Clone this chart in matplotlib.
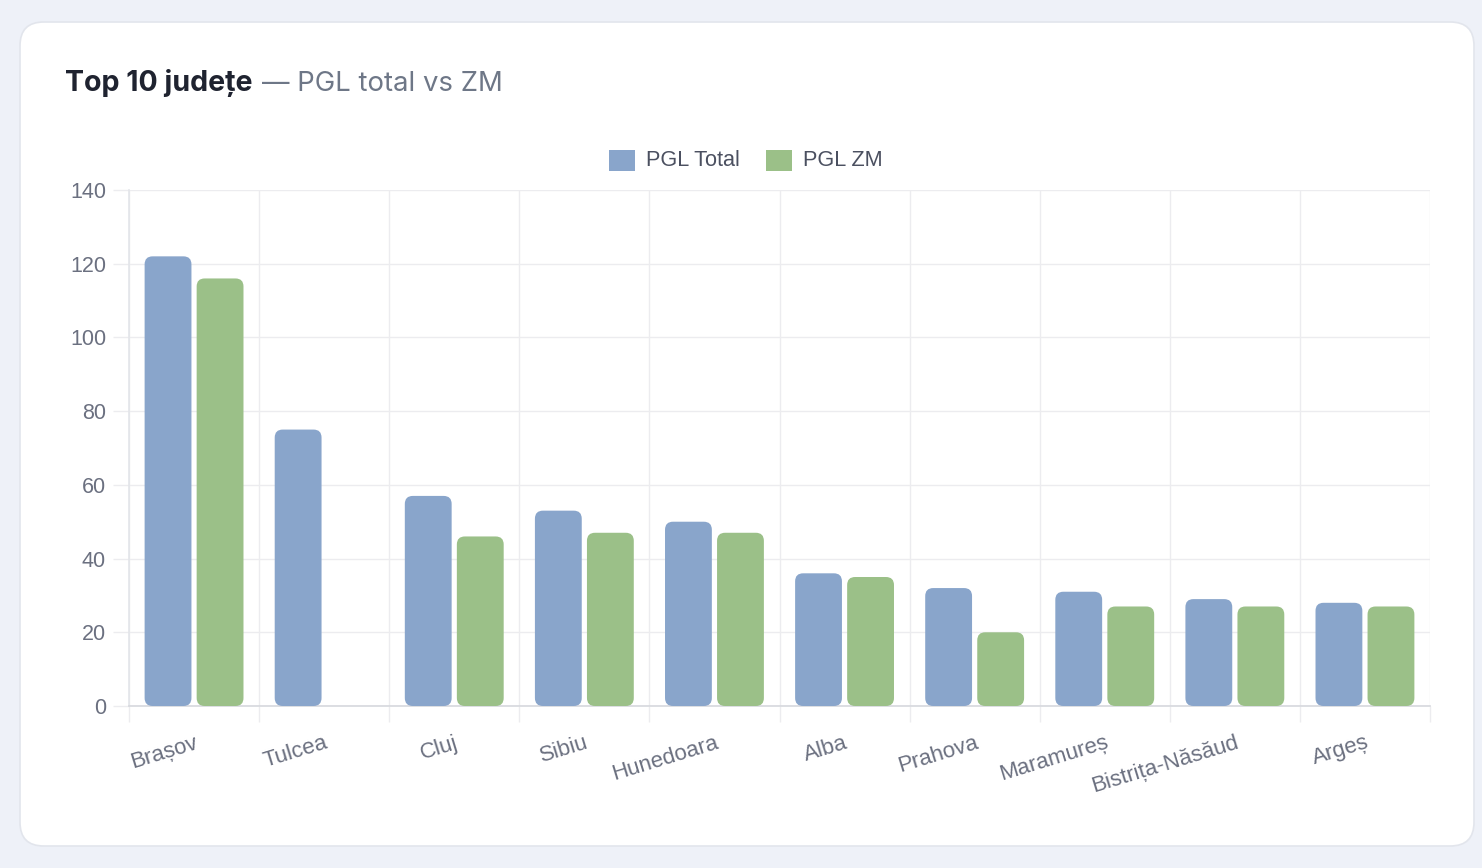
import matplotlib
matplotlib.use("Agg")
import matplotlib.pyplot as plt
from matplotlib.patches import FancyBboxPatch, Rectangle
import numpy as np

# ---- data ----
categories = ["Brașov", "Tulcea", "Cluj", "Sibiu", "Hunedoara", "Alba",
              "Prahova", "Maramureș", "Bistrița-Năsăud", "Argeș"]
pgl_total = [122, 75, 57, 53, 50, 36, 32, 31, 29, 28]
pgl_zm = [116, 0, 46, 47, 47, 35, 20, 27, 27, 27]
series_names = ["PGL Total", "PGL ZM"]
y_ticks = [0, 20, 40, 60, 80, 100, 120, 140]

# ---- style ----
W, H = 1482, 868
BG = "#eef1f8"
CARD = "#ffffff"
BLUE = "#89a5cb"
GREEN = "#9bc088"
GRID = "#ececef"
AXIS = "#d6d8dd"
TICKTXT = "#6b7080"
FONT = "Liberation Sans"

fig = plt.figure(figsize=(W / 100, H / 100), dpi=100, facecolor=BG)

def fx(px):
    return px / W

def fy(py):
    return 1 - py / H

# card
card = FancyBboxPatch((fx(20), fy(846)), fx(1474) - fx(20), fy(22) - fy(846),
                      boxstyle="round,pad=0,rounding_size=0.016",
                      mutation_aspect=W / H,
                      transform=fig.transFigure, facecolor=CARD,
                      edgecolor="#e2e5ec", linewidth=1.2, zorder=-5)
fig.patches.append(card)

# axes
left, right, top, bottom = 129, 1430, 190, 706
ax = fig.add_axes([fx(left), fy(bottom), fx(right) - fx(left), fy(top) - fy(bottom)])
ax.set_zorder(2)
ax.set_facecolor("none")
n = len(categories)
ax.set_xlim(-0.5, n - 0.5)
ax.set_ylim(0, 140)

# grid lines
for yv in y_ticks:
    ax.axhline(yv, color=GRID, lw=1.0, zorder=0)
for k in range(n + 1):
    ax.axvline(k - 0.5, color=GRID, lw=1.0, zorder=0)

for s in ["top", "right"]:
    ax.spines[s].set_visible(False)
ax.spines["bottom"].set_color(AXIS)
ax.spines["bottom"].set_linewidth(1.2)
ax.spines["left"].set_color("#e3e5ea")
ax.spines["left"].set_linewidth(1.2)

# bars
x = np.arange(n)
bw = 0.36
off = 0.2
px_x = (right - left) / n          # px per x unit
px_y = (bottom - top) / 140.0      # px per y unit
aspect = px_x / px_y
r = 8.0 / px_x
for vals, color, sign in [(pgl_total, BLUE, -1), (pgl_zm, GREEN, 1)]:
    for xi, v in zip(x, vals):
        if v <= 0:
            continue
        p = FancyBboxPatch((xi + sign * off - bw / 2, 0), bw, v,
                           boxstyle=f"round,pad=0,rounding_size={r}",
                           mutation_aspect=aspect,
                           facecolor=color, edgecolor="none", zorder=3)
        ax.add_patch(p)

# ticks
ax.set_yticks(y_ticks)
ax.set_yticklabels([str(v) for v in y_ticks], fontsize=15.5, color=TICKTXT, family=FONT)
ax.tick_params(axis="y", length=11.5, width=1.0, color=GRID, pad=5)

ax.set_xticks(x)
ax.set_xticklabels(categories, fontsize=16, color=TICKTXT, family=FONT,
                   rotation=17, ha="right", va="top", rotation_mode="anchor")
ax.tick_params(axis="x", which="major", length=0, pad=19)
ax.set_xticks(np.arange(n + 1) - 0.5, minor=True)
ax.tick_params(axis="x", which="minor", length=11.5, width=1.0, color=GRID)

# legend
lg_y = 160
items = [(609, BLUE, series_names[0]), (766, GREEN, series_names[1])]
for x0, col, lab in items:
    fig.patches.append(Rectangle((fx(x0), fy(lg_y + 11)), fx(26), 21 / H,
                                 transform=fig.transFigure, facecolor=col,
                                 edgecolor="none"))
    fig.text(fx(x0 + 37), fy(lg_y), lab, fontsize=15.6, color="#4b5060",
             family=FONT, va="center", ha="left")

# title
t1 = fig.text(fx(65), fy(91), "Top 10 județe", fontsize=20.6, fontweight="bold",
              color="#1f2330", family="Inter", va="baseline", ha="left")
fig.canvas.draw()
bb = t1.get_window_extent()
fig.text((bb.x1 + 9) / W, fy(91), "— PGL total vs ZM", fontsize=19.8,
         color="#6e7787", family="Inter", va="baseline", ha="left")

fig.savefig("out.png", dpi=100, facecolor=BG)
